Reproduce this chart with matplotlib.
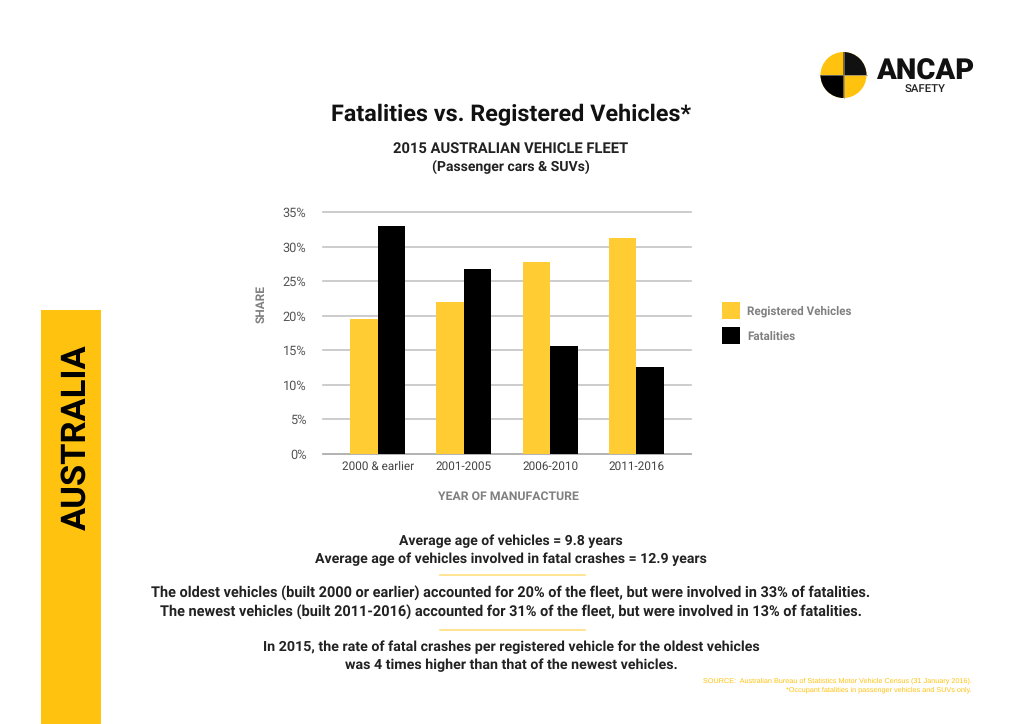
import matplotlib
matplotlib.use('Agg')
import matplotlib.pyplot as plt
from matplotlib.patches import Rectangle, Wedge, Circle

categories = ['2000 & earlier', '2001-2005', '2006-2010', '2011-2016']
registered = [19.5, 22.0, 27.8, 31.2]
fatalities = [33.0, 26.8, 15.6, 12.6]
yticks = [0, 5, 10, 15, 20, 25, 30, 35]

W, H = 1024, 724
YEL = '#ffc20e'
BAR = '#ffcd33'
GREY = '#808080'
plt.rcParams['font.family'] = ['Roboto', 'DejaVu Sans']
# no hinting so that text widths scale smoothly with font size
plt.rcParams['text.hinting'] = 'no_hinting'

fig = plt.figure(figsize=(W/100, H/100), dpi=100)

# overlay in pixel coords, y down
bg = fig.add_axes([0, 0, 1, 1])
bg.set_xlim(0, W)
bg.set_ylim(H, 0)
bg.axis('off')

bg.add_patch(Rectangle((41, 310), 60, 414, color=YEL, lw=0))
bg.text(76, 437, 'AUSTRALIA', rotation=90, ha='center', va='center', fontsize=24.8, fontweight='bold', color='black')

# logo, angles are flipped because y is inverted
cx, cy, r = 843.5, 75, 23
bg.add_patch(Circle((cx, cy), r, color=YEL, lw=0))
bg.add_patch(Wedge((cx, cy), r, 270, 360, color='#111111', lw=0))
bg.add_patch(Wedge((cx, cy), r, 90, 180, color='#000000', lw=0))
bg.plot([cx-r, cx+r], [cy, cy], color='#888888', lw=0.5)
bg.plot([cx, cx], [cy-r, cy+r], color='#888888', lw=0.5)
bg.text(925.5, 71.5, 'ANCAP', ha='center', va='center', fontsize=21, fontweight='black', color='#111111')
bg.text(925, 90, 'SAFETY', ha='center', va='center', fontsize=8.2, color='#222222', fontweight='medium')

bg.text(511, 114.5, 'Fatalities vs. Registered Vehicles*', ha='center', va='center', fontsize=16.8, fontweight='bold', color='#111111')
bg.text(511, 149, '2015 AUSTRALIAN VEHICLE FLEET', ha='center', va='center', fontsize=10.6, fontweight='bold', color='#222222')
bg.text(511, 167, '(Passenger cars & SUVs)', ha='center', va='center', fontsize=10.1, fontweight='bold', color='#222222')

# legend
bg.add_patch(Rectangle((722, 302), 18, 17, color=BAR, lw=0))
bg.add_patch(Rectangle((722, 327), 18, 17, color='black', lw=0))
bg.text(747, 311.5, 'Registered Vehicles', va='center', fontsize=8.35, fontweight='bold', color=GREY)
bg.text(747, 336.5, 'Fatalities', va='center', fontsize=8.35, fontweight='bold', color=GREY)

# body text
lines = [
    (541, 'Average age of vehicles = 9.8 years', 10.05),
    (559, 'Average age of vehicles involved in fatal crashes = 12.9 years', 10.15),
    (593, 'The oldest vehicles (built 2000 or earlier) accounted for 20% of the fleet, but were involved in 33% of fatalities.', 10.45),
    (612, 'The newest vehicles (built 2011-2016) accounted for 31% of the fleet, but were involved in 13% of fatalities.', 10.45),
    (647, 'In 2015, the rate of fatal crashes per registered vehicle for the oldest vehicles', 10.25),
    (665, 'was 4 times higher than that of the newest vehicles.', 10.25),
]
for y, s, fs in lines:
    bg.text(511, y, s, ha='center', va='center', fontsize=fs, fontweight='bold', color='#222222')
bg.plot([440, 585], [575, 575], color='#ffdf80', lw=1.2)
bg.plot([440, 585], [630, 630], color='#ffdf80', lw=1.2)

bg.text(972, 681, 'SOURCE:  Australian Bureau of Statistics Motor Vehicle Census (31 January 2016).', ha='right', va='center',
        fontsize=5.2, color=YEL, family='Liberation Sans')
bg.text(972, 690, '*Occupant fatalities in passenger vehicles and SUVs only.', ha='right', va='center',
        fontsize=5.2, color=YEL, family='Liberation Sans')

# chart
ax = fig.add_axes([323/W, 1-453.7/H, 368/W, 241.7/H])
ax.patch.set_alpha(0)
x = list(range(len(categories)))
w = 0.32
ax.bar([i-w/2 for i in x], registered, w, color=BAR, zorder=3, label='Registered Vehicles')
ax.bar([i+w/2 for i in x], fatalities, w, color='black', zorder=3, label='Fatalities')
ax.set_xlim(-0.635, 3.635)
ax.set_ylim(0, 35)
ax.set_yticks(yticks)
ax.set_yticklabels(['%d%%' % t for t in yticks], fontsize=9.2, color='#555555')
ax.set_xticks(x)
ax.set_xticklabels(categories, fontsize=8.5, color='#444444')
ax.tick_params(length=0)
ax.tick_params(axis='y', pad=12)
ax.tick_params(axis='x', pad=5)
ax.grid(axis='y', color='#c4c4c4', lw=1.2, zorder=0)
ax.set_axisbelow(True)
for gl in ax.get_ygridlines():
    gl.set_clip_on(False)
for s in ['top', 'left', 'right']:
    ax.spines[s].set_visible(False)
ax.spines['bottom'].set_color('#b0b0b0')
ax.spines['bottom'].set_linewidth(1.2)

bg.text(261, 304.5, 'SHARE', rotation=90, ha='center', va='center', fontsize=8.6, fontweight='bold', color=GREY)
bg.text(508, 496.5, 'YEAR OF MANUFACTURE', ha='center', va='center', fontsize=8.8, fontweight='bold', color=GREY)

fig.savefig('out.png', dpi=100)
